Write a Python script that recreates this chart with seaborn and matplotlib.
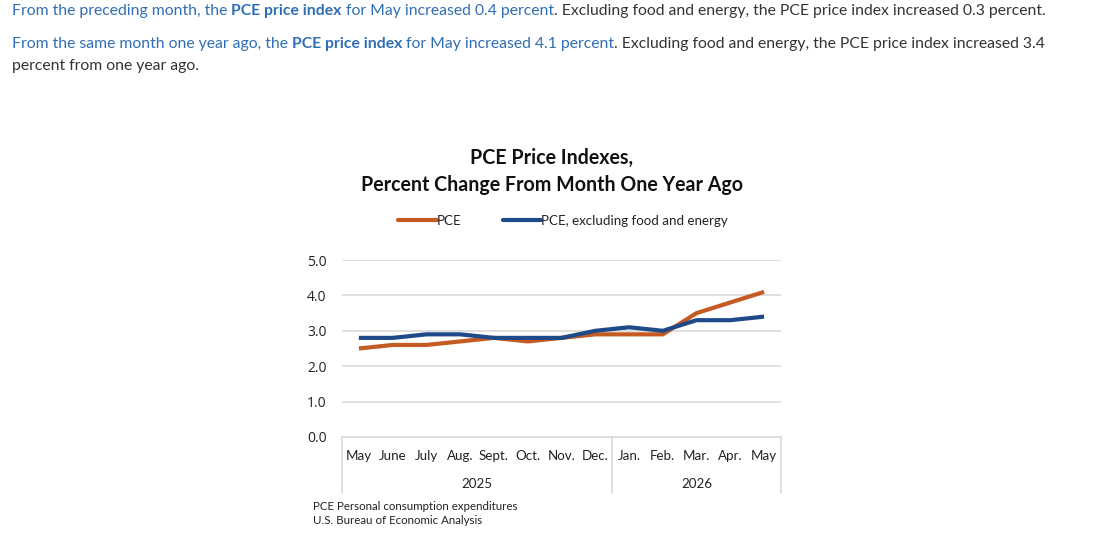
import numpy as np
import pandas as pd
import seaborn as sns
import matplotlib.pyplot as plt

# chart data
months = ["May", "June", "July", "Aug.", "Sept.", "Oct.", "Nov.", "Dec.",
          "Jan.", "Feb.", "Mar.", "Apr.", "May"]
years = ["2025", "2026"]
year_start = [0, 8]
pce = [2.5, 2.6, 2.6, 2.7, 2.8, 2.7, 2.8, 2.9, 2.9, 2.9, 3.5, 3.8, 4.1]
pce_core = [2.8, 2.8, 2.9, 2.9, 2.8, 2.8, 2.8, 3.0, 3.1, 3.0, 3.3, 3.3, 3.4]
series_names = ["PCE", "PCE, excluding food and energy"]
y_ticks = [0.0, 1.0, 2.0, 3.0, 4.0, 5.0]

ORANGE = "#C55A22"
BLUE = "#1F4A8A"
LINK = "#2F6EB5"
DARK = "#333333"
GRID = "#D9D9D9"

sns.set_theme(style="white")
plt.rcParams["font.family"] = ["Lato", "DejaVu Sans"]

W, H = 1103, 556
fig = plt.figure(figsize=(W / 100, H / 100), dpi=100)


def fx(px):
    return px / W


def fy(py):
    return 1 - py / H


# intro paragraph with mixed colours / weights
renderer = fig.canvas.get_renderer()


def rich_line(x0, y0, parts, size=11.35):
    x = x0
    for text, color, weight in parts:
        t = fig.text(fx(x), fy(y0), text, color=color, fontweight=weight,
                     fontsize=size, va="center", ha="left")
        bb = t.get_window_extent(renderer)
        x += bb.width


rich_line(12, 11, [
    ("From the preceding month, the ", LINK, "normal"),
    ("PCE price index", LINK, "bold"),
    (" for May increased 0.4 percent", LINK, "normal"),
    (". Excluding food and energy, the PCE price index increased 0.3 percent.", DARK, "normal"),
])
rich_line(12, 44, [
    ("From the same month one year ago, the ", LINK, "normal"),
    ("PCE price index", LINK, "bold"),
    (" for May increased 4.1 percent", LINK, "normal"),
    (". Excluding food and energy, the PCE price index increased 3.4", DARK, "normal"),
])
rich_line(12, 66, [("percent from one year ago.", DARK, "normal")])

# chart area
ax_left, ax_right, ax_top, ax_bottom = 342, 781, 260, 437
ax = fig.add_axes([fx(ax_left), fy(ax_bottom),
                   fx(ax_right - ax_left), (ax_bottom - ax_top) / H])

df = pd.DataFrame({
    "pos": list(range(len(months))) * 2,
    "value": pce + pce_core,
    "series": [series_names[0]] * len(pce) + [series_names[1]] * len(pce_core),
})
sns.lineplot(data=df, x="pos", y="value", hue="series",
             palette=[ORANGE, BLUE], linewidth=3.0, ax=ax, legend=False,
             solid_capstyle="butt")

ax.set_xlim(-0.5, len(months) - 0.5)
ax.set_ylim(0, 5)
ax.set_yticks(y_ticks)
ax.set_yticklabels([f"{v:.1f}" for v in y_ticks], fontsize=10, color="#222222",
                   fontfamily=["Open Sans", "DejaVu Sans"])
ax.tick_params(axis="y", length=0, pad=11)
ax.set_xticks([])
ax.set_xlabel("")
ax.set_ylabel("")
for s in ax.spines.values():
    s.set_visible(False)
for v in y_ticks[1:]:
    ax.axhline(v, color=GRID, linewidth=1.2, zorder=0)

# category box under the plot
trans = ax.get_xaxis_transform()
ax.plot([-0.5, len(months) - 0.5], [0, 0], color=GRID, lw=1.2,
        transform=trans, clip_on=False)
box_depth = (493 - ax_bottom) / (ax_bottom - ax_top)
for xv in [-0.5, year_start[1] - 0.5, len(months) - 0.5]:
    ax.plot([xv, xv], [0, -box_depth], color=GRID, lw=1.2,
            transform=trans, clip_on=False)
month_y = -(456 - ax_bottom) / (ax_bottom - ax_top)
year_y = -(484 - ax_bottom) / (ax_bottom - ax_top)
for i, m in enumerate(months):
    ax.text(i, month_y, m, transform=trans, ha="center", va="center",
            fontsize=9.6, color="#222222")
bounds = year_start + [len(months)]
for k, yr in enumerate(years):
    mid = (bounds[k] + bounds[k + 1] - 1) / 2
    ax.text(mid, year_y, yr, transform=trans, ha="center", va="center",
            fontsize=9.6, color="#222222")

# title
fig.text(fx(552), fy(158), "PCE Price Indexes,", ha="center", va="center",
         fontsize=14.1, fontweight="bold", color="#111111")
fig.text(fx(552), fy(185), "Percent Change From Month One Year Ago",
         ha="center", va="center", fontsize=14.1, fontweight="bold", color="#111111")

# legend
handles = [plt.Line2D([], [], color=ORANGE, lw=3.0),
           plt.Line2D([], [], color=BLUE, lw=3.0)]
leg_x = (398 - ax_left) / (ax_right - ax_left)
leg_y = (ax_bottom - 221) / (ax_bottom - ax_top)
ax.legend(handles, series_names, loc="center left", ncol=2,
          bbox_to_anchor=(leg_x, leg_y), frameon=False, fontsize=9.6,
          handlelength=2.9, handletextpad=0.0, columnspacing=3.1,
          borderpad=0, borderaxespad=0, labelcolor="#222222")

# source note
fig.text(fx(313), fy(507), "PCE Personal consumption expenditures",
         ha="left", va="center", fontsize=8.3, color="#222222")
fig.text(fx(313), fy(521), "U.S. Bureau of Economic Analysis",
         ha="left", va="center", fontsize=8.3, color="#222222")

fig.savefig("out.png", dpi=100, facecolor="white")
